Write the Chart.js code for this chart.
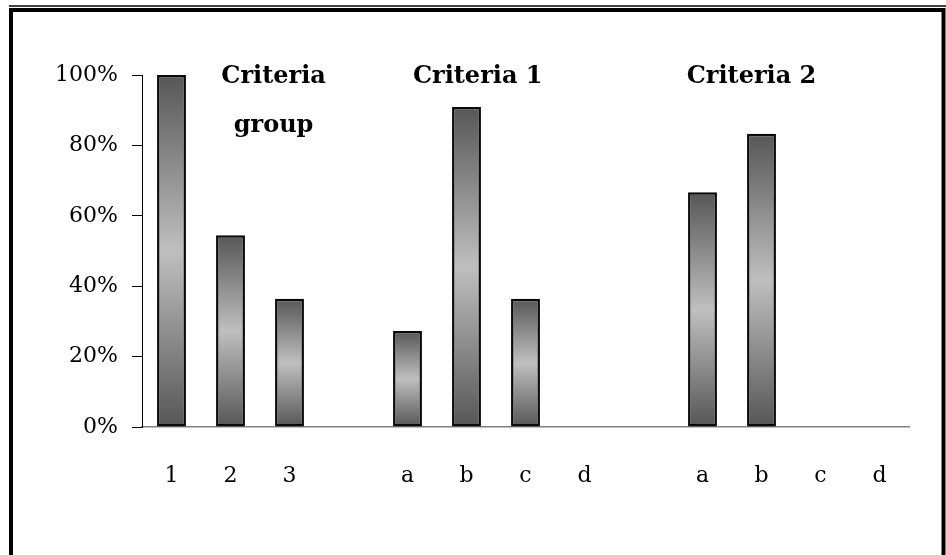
<!DOCTYPE html>
<html>
<head>
<meta charset="utf-8">
<script src="https://cdn.jsdelivr.net/npm/chart.js@4/dist/chart.umd.min.js"></script>
<style>
html,body{margin:0;padding:0;background:#fff;}
#wrap{position:relative;width:946px;height:555px;}
canvas{display:block;}
</style>
</head>
<body>
<div id="wrap"><canvas id="c" width="946" height="555"></canvas></div>
<script>
// ---- data ----
const categories = ['1', '2', '3', '', 'a', 'b', 'c', 'd', '', 'a', 'b', 'c', 'd'];
const shares = [1.00, 0.545, 0.364, null, 0.273, 0.909, 0.364, 0, null, 0.667, 0.833, 0, 0];
const groupTitles = [['Criteria', 'group'], ['Criteria 1'], ['Criteria 2']];
const yTicks = [0, 0.2, 0.4, 0.6, 0.8, 1.0];

// ---- presentation ----
const FONT = '"DejaVu Serif", "Liberation Serif", serif';
const titleAnchors = [1.73, 5.19, 9.83]; // category-axis positions of the group titles

function barGradient(ctx) {
  const chart = ctx.chart;
  const ca = chart.chartArea;
  if (!ca || ctx.raw == null) return '#888';
  const ys = chart.scales.y;
  const top = ys.getPixelForValue(ctx.raw);
  const bottom = ys.getPixelForValue(0);
  if (Math.abs(bottom - top) < 1) return '#888';
  const g = chart.ctx.createLinearGradient(0, top, 0, bottom);
  g.addColorStop(0, '#565656');
  g.addColorStop(0.5, '#bfbfbf');
  g.addColorStop(1, '#565656');
  return g;
}

const framePlugin = {
  id: 'frame',
  afterDraw(chart) {
    const c = chart.ctx;
    c.save();
    c.strokeStyle = '#000';
    // thin outer line at top
    c.lineWidth = 1.5;
    c.beginPath(); c.moveTo(9, 6); c.lineTo(946, 6); c.stroke();
    // thick inner frame
    c.lineWidth = 4;
    c.beginPath();
    c.moveTo(11, 580); c.lineTo(11, 10); c.lineTo(943.5, 10); c.lineTo(943.5, 580);
    c.stroke();
    // group titles
    const xs = chart.scales.x, ys = chart.scales.y;
    c.fillStyle = '#000';
    c.textAlign = 'center';
    c.textBaseline = 'alphabetic';
    c.font = 'bold 24px ' + FONT;
    groupTitles.forEach((lines, i) => {
      const x = xs.getPixelForValue(titleAnchors[i]);
      lines.forEach((t, j) => {
        const y = ys.getPixelForValue(0.977) + j * 49;
        c.fillText(t, x, y);
      });
    });
    c.restore();
  }
};

new Chart(document.getElementById('c'), {
  type: 'bar',
  data: {
    labels: categories,
    datasets: [{
      data: shares,
      backgroundColor: barGradient,
      borderColor: '#0a0a0a',
      borderWidth: (ctx) => (ctx.raw > 0 ? 2.5 : 0),
      borderSkipped: false,
      barPercentage: 0.49,
      categoryPercentage: 1.0
    }]
  },
  options: {
    responsive: false,
    animation: false,
    events: [],
    layout: { padding: { top: 75, right: 37, left: 0, bottom: 0 } },
    plugins: { legend: { display: false }, tooltip: { enabled: false }, title: { display: false } },
    scales: {
      x: {
        grid: { display: false, drawTicks: false },
        border: { display: true, color: '#808080', width: 1.5 },
        ticks: { color: '#000', font: { family: FONT, size: 22 }, padding: 36, maxRotation: 0, autoSkip: false },
        afterFit(scale) { scale.height = 128; }
      },
      y: {
        min: 0, max: 1,
        afterBuildTicks(scale) { scale.ticks = yTicks.map(v => ({ value: v })); },
        grid: { drawOnChartArea: false, drawTicks: true, tickLength: 10, color: '#000', lineWidth: 1 },
        border: { display: true, color: '#000', width: 1 },
        ticks: { color: '#000', font: { family: FONT, size: 22 }, padding: 14,
                 callback: (v) => Math.round(v * 100) + '%' },
        afterFit(scale) { scale.width = 142; }
      }
    }
  },
  plugins: [framePlugin]
});
</script>
</body>
</html>
